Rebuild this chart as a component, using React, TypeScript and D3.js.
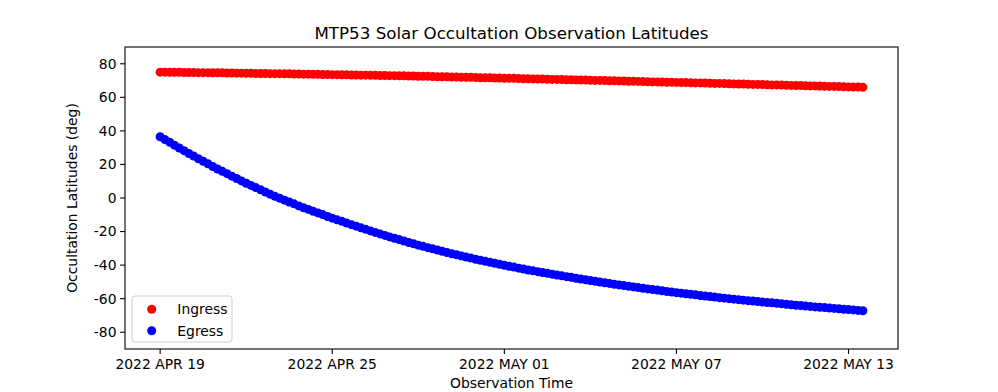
import React from 'react';
import * as d3 from 'd3';

// observation times: one observation every 4 hours from 2022 APR 19 00:00 UTC
const obsStart = Date.UTC(2022, 3, 19, 0, 0);
const obsStepHours = 4;

// ingress latitudes (deg)
const ingress = [
  75.0, 75.0, 74.9, 74.9, 74.9, 74.8, 74.8, 74.8, 74.7, 74.7, 74.7, 74.6,
  74.6, 74.6, 74.5, 74.5, 74.4, 74.4, 74.3, 74.3, 74.2, 74.2, 74.2, 74.1,
  74.1, 74.1, 74.0, 74.0, 73.9, 73.9, 73.8, 73.8, 73.7, 73.7, 73.6, 73.6,
  73.5, 73.5, 73.4, 73.4, 73.3, 73.3, 73.2, 73.2, 73.1, 73.1, 73.0, 73.0,
  72.9, 72.9, 72.8, 72.8, 72.7, 72.7, 72.6, 72.5, 72.5, 72.4, 72.3, 72.3,
  72.2, 72.1, 72.1, 72.0, 71.9, 71.9, 71.8, 71.7, 71.7, 71.6, 71.5, 71.5,
  71.4, 71.3, 71.3, 71.2, 71.1, 71.1, 71.0, 70.9, 70.9, 70.8, 70.7, 70.7,
  70.6, 70.5, 70.5, 70.4, 70.3, 70.3, 70.2, 70.1, 70.1, 70.0, 69.9, 69.9,
  69.8, 69.7, 69.6, 69.6, 69.5, 69.4, 69.3, 69.2, 69.2, 69.1, 69.0, 69.0,
  68.9, 68.8, 68.8, 68.7, 68.6, 68.6, 68.5, 68.4, 68.3, 68.3, 68.2, 68.1,
  68.0, 67.9, 67.9, 67.8, 67.7, 67.7, 67.6, 67.5, 67.4, 67.4, 67.3, 67.2,
  67.1, 67.0, 67.0, 66.9, 66.8, 66.8, 66.7, 66.6, 66.5, 66.5, 66.4, 66.3,
  66.2, 66.1, 66.1, 66.0,
];

// egress latitudes (deg)
const egress = [
  36.5, 34.8, 33.2, 31.5, 29.8, 28.2, 26.5, 25.0, 23.4, 21.9, 20.4, 18.8,
  17.3, 15.9, 14.5, 13.0, 11.6, 10.2, 8.8, 7.5, 6.2, 4.9, 3.6, 2.3,
  1.0, -0.1, -1.3, -2.4, -3.5, -4.7, -5.8, -6.8, -7.9, -8.9, -9.9, -11.0,
  -12.0, -13.0, -13.9, -14.9, -15.9, -16.8, -17.8, -18.7, -19.6, -20.5, -21.4, -22.3,
  -23.2, -24.0, -24.8, -25.6, -26.5, -27.3, -28.1, -28.8, -29.6, -30.3, -31.0, -31.8,
  -32.5, -33.2, -33.8, -34.5, -35.2, -35.8, -36.5, -37.1, -37.7, -38.3, -38.9, -39.5,
  -40.1, -40.7, -41.2, -41.8, -42.3, -42.9, -43.4, -43.9, -44.4, -44.9, -45.4, -45.9,
  -46.4, -46.9, -47.3, -47.8, -48.3, -48.7, -49.2, -49.6, -50.1, -50.5, -50.9, -51.4,
  -51.8, -52.2, -52.6, -53.0, -53.4, -53.8, -54.2, -54.6, -54.9, -55.3, -55.7, -56.0,
  -56.4, -56.7, -57.1, -57.4, -57.7, -58.1, -58.4, -58.7, -59.0, -59.4, -59.7, -60.0,
  -60.3, -60.6, -60.9, -61.2, -61.4, -61.7, -62.0, -62.3, -62.5, -62.8, -63.1, -63.3,
  -63.6, -63.9, -64.1, -64.4, -64.6, -64.9, -65.1, -65.3, -65.6, -65.8, -66.0, -66.3,
  -66.5, -66.7, -67.0, -67.2,
];

const xTickDates = ['2022-04-19', '2022-04-25', '2022-05-01', '2022-05-07', '2022-05-13'];
const yTicks = [-80, -60, -40, -20, 0, 20, 40, 60, 80];
const seriesNames = ['Ingress', 'Egress'];
const seriesColors = ['red', 'blue'];

const W = 998;
const H = 392;
const margin = { top: 47, right: 100, bottom: 43, left: 125 };
const font = 'DejaVu Sans, sans-serif';

const timeOf = (i: number) => new Date(obsStart + i * obsStepHours * 3600 * 1000);
const fmt = d3.utcFormat('%Y %b %d');

export default function App() {
  const iw = W - margin.left - margin.right;
  const ih = H - margin.top - margin.bottom;

  const t0 = timeOf(0).getTime();
  const t1 = timeOf(ingress.length - 1).getTime();
  const pad = (t1 - t0) * 0.05;
  const x = d3.scaleUtc().domain([new Date(t0 - pad), new Date(t1 + pad)]).range([0, iw]);
  const y = d3.scaleLinear().domain([-90, 90]).range([ih, 0]);

  const series = [ingress, egress];
  const r = 4.5;

  return (
    <svg width={W} height={H} style={{ position: 'absolute', left: 0, top: 0, background: '#fff' }}
      fontFamily={font}>
      <text x={margin.left + iw / 2} y={39} textAnchor="middle" fontSize={16.7}>
        MTP53 Solar Occultation Observation Latitudes
      </text>
      <g transform={`translate(${margin.left},${margin.top})`}>
        {series.map((vals, s) => (
          <g key={s} fill={seriesColors[s]}>
            {vals.map((v, i) => (
              <circle key={i} cx={x(timeOf(i))} cy={y(v)} r={r} />
            ))}
          </g>
        ))}
        <rect x={0} y={0} width={iw} height={ih} fill="none" stroke="#000" strokeWidth={1.1} />
        {yTicks.map((t) => (
          <g key={t} transform={`translate(0,${y(t)})`}>
            <line x1={-4.9} x2={0} stroke="#000" strokeWidth={1.1} />
            <text x={-8.5} dy="0.35em" textAnchor="end" fontSize={13.9}>{t}</text>
          </g>
        ))}
        {xTickDates.map((d) => {
          const dt = new Date(d + 'T00:00:00Z');
          return (
            <g key={d} transform={`translate(${x(dt)},${ih})`}>
              <line y1={0} y2={4.9} stroke="#000" strokeWidth={1.1} />
              <text y={9.5} dy="0.76em" textAnchor="middle" fontSize={13.9}>
                {fmt(dt).toUpperCase()}
              </text>
            </g>
          );
        })}
        <text x={iw / 2} y={ih + 39} textAnchor="middle" fontSize={13.9}>Observation Time</text>
        <text transform={`translate(${-53},${ih / 2}) rotate(-90)`} dy="0.35em" textAnchor="middle" fontSize={13.9}>
          Occultation Latitudes (deg)
        </text>
        <g transform={`translate(7,249)`}>
          <rect x={0} y={0} width={100} height={46} rx={3} fill="#fff" fillOpacity={0.8} stroke="#ccc" strokeWidth={1} />
          {seriesNames.map((n, s) => (
            <g key={n} transform={`translate(0,${13.3 + s * 21.4})`}>
              <circle cx={19.7} cy={0} r={r} fill={seriesColors[s]} />
              <text x={45.3} dy="0.35em" fontSize={13.9}>{n}</text>
            </g>
          ))}
        </g>
      </g>
    </svg>
  );
}
